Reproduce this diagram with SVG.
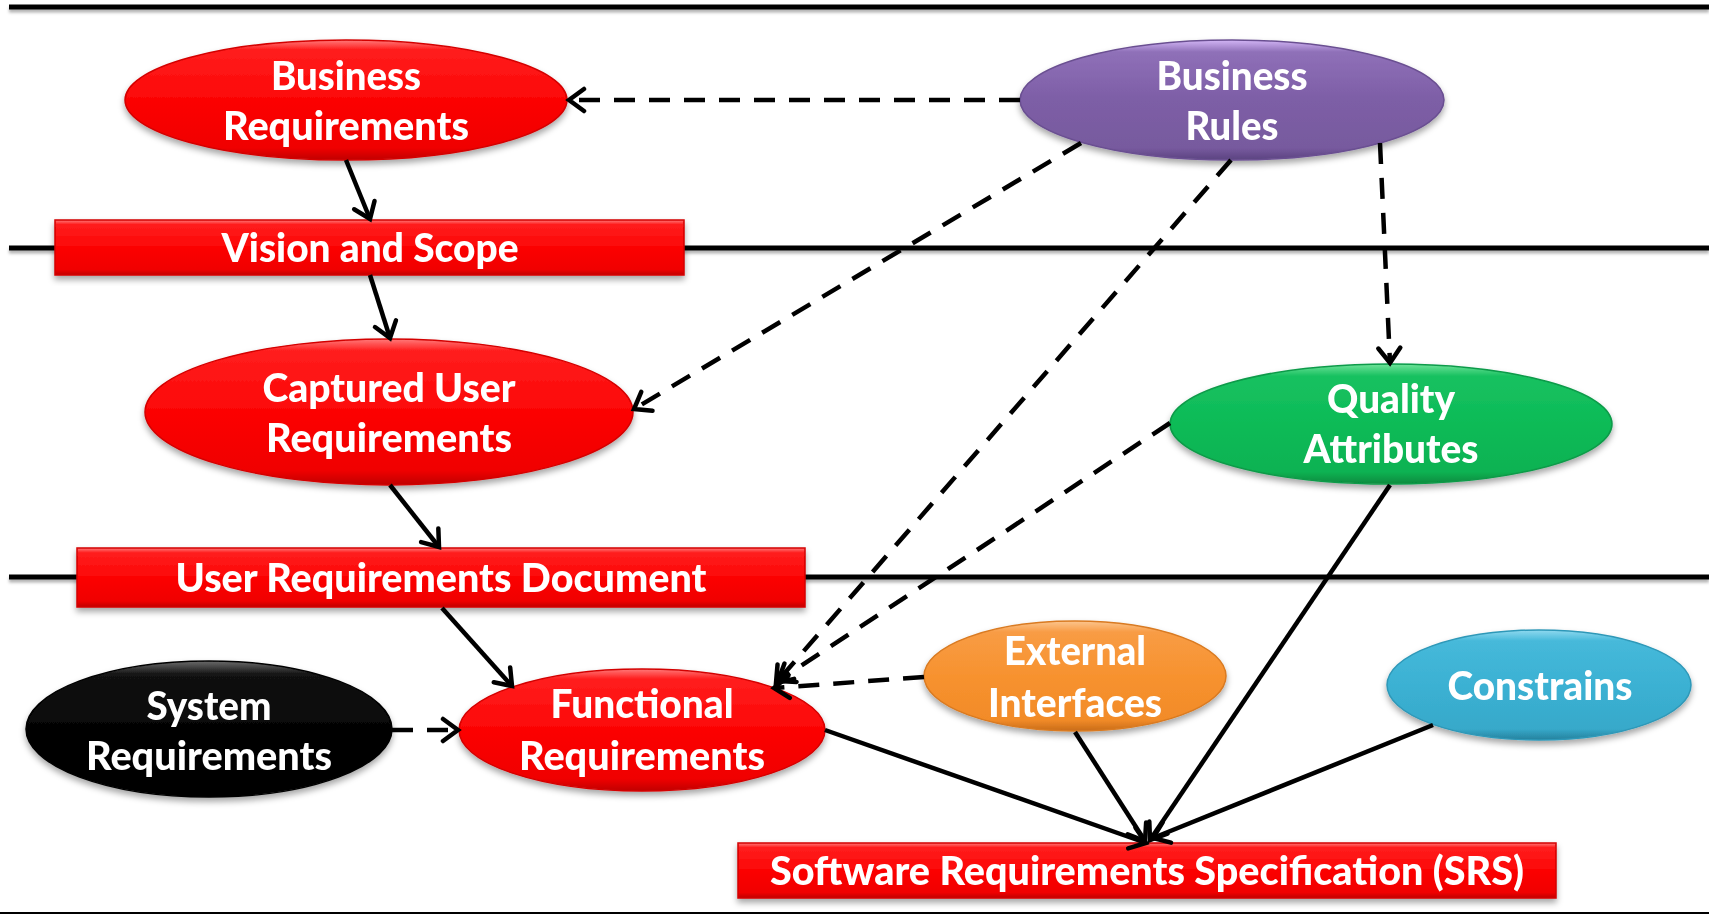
<svg xmlns="http://www.w3.org/2000/svg" width="1709" height="915" viewBox="0 0 1709 915">
<defs>
<style>
.lane{stroke:#000;stroke-width:5;fill:none}
.t{font-family:Lato,"Open Sans","Liberation Sans",sans-serif;font-weight:900;font-size:39px;fill:#fff;text-anchor:middle}
.c{stroke:#000;stroke-width:4.5;fill:none;stroke-linecap:butt}
.d{stroke-dasharray:21 14}
.n{filter:url(#sh)}
</style>
<filter id="sh" x="-10%" y="-10%" width="120%" height="130%">
<feDropShadow dx="0" dy="4" stdDeviation="3" flood-color="#000" flood-opacity="0.35"/>
</filter>
<filter id="ls" filterUnits="userSpaceOnUse" x="0" y="0" width="1709" height="915">
<feDropShadow dx="0" dy="3" stdDeviation="1.5" flood-color="#000" flood-opacity="0.3"/>
</filter>
<marker id="ah" viewBox="-18 -14 22 28" markerWidth="22" markerHeight="28" refX="0" refY="0" orient="auto" markerUnits="userSpaceOnUse">
<path d="M-15,-11 L0,0 L-15,11" fill="none" stroke="#000" stroke-width="4.5" stroke-dasharray="none" stroke-linejoin="miter" stroke-linecap="round"/>
</marker>
<linearGradient id="gRed" x1="0" y1="0" x2="0" y2="1">
<stop offset="0" stop-color="#ff7a7a"/>
<stop offset="0.08" stop-color="#ff1e1e"/>
<stop offset="0.5" stop-color="#fc0505"/>
<stop offset="0.9" stop-color="#f00000"/>
<stop offset="1" stop-color="#c00000"/>
</linearGradient>
<linearGradient id="gPur" x1="0" y1="0" x2="0" y2="1">
<stop offset="0" stop-color="#d2b5f5"/>
<stop offset="0.1" stop-color="#8f70b8"/>
<stop offset="0.5" stop-color="#7d5ea6"/>
<stop offset="0.9" stop-color="#775a9e"/>
<stop offset="1" stop-color="#5b4380"/>
</linearGradient>
<linearGradient id="gGrn" x1="0" y1="0" x2="0" y2="1">
<stop offset="0" stop-color="#70e39a"/>
<stop offset="0.1" stop-color="#17c160"/>
<stop offset="0.5" stop-color="#0dbb57"/>
<stop offset="0.9" stop-color="#0ab252"/>
<stop offset="1" stop-color="#078a3e"/>
</linearGradient>
<linearGradient id="gOrg" x1="0" y1="0" x2="0" y2="1">
<stop offset="0" stop-color="#fcc58e"/>
<stop offset="0.1" stop-color="#f89c45"/>
<stop offset="0.5" stop-color="#f7922f"/>
<stop offset="0.9" stop-color="#f28b28"/>
<stop offset="1" stop-color="#c86c18"/>
</linearGradient>
<linearGradient id="gBlu" x1="0" y1="0" x2="0" y2="1">
<stop offset="0" stop-color="#8fd9ef"/>
<stop offset="0.1" stop-color="#46b9da"/>
<stop offset="0.5" stop-color="#3bb1d3"/>
<stop offset="0.9" stop-color="#37a9ca"/>
<stop offset="1" stop-color="#25819d"/>
</linearGradient>
<linearGradient id="gBlk" x1="0" y1="0" x2="0" y2="1">
<stop offset="0" stop-color="#6a6a6a"/>
<stop offset="0.1" stop-color="#121212"/>
<stop offset="0.5" stop-color="#050505"/>
<stop offset="1" stop-color="#000"/>
</linearGradient>
</defs>
<rect width="1709" height="915" fill="#fff"/>

<g id="lanes">
<g filter="url(#ls)">
<line class="lane" x1="9" y1="7" x2="1709" y2="7"/>
<line class="lane" x1="9" y1="248" x2="1709" y2="248"/>
<line class="lane" x1="9" y1="577" x2="1709" y2="577"/>
</g>
<line x1="0" y1="913" x2="1709" y2="913" stroke="#000" stroke-width="2"/>
</g>

<g id="node-business-requirements" class="n">
<ellipse cx="346" cy="100" rx="221" ry="60" fill="url(#gRed)" stroke="#d40000" stroke-width="1.5"/>
<text class="t" x="346" y="90" textLength="150" lengthAdjust="spacingAndGlyphs">Business</text>
<text class="t" x="346" y="140" textLength="246" lengthAdjust="spacingAndGlyphs">Requirements</text>
</g>

<g id="node-business-rules" class="n">
<ellipse cx="1232" cy="100" rx="212" ry="60" fill="url(#gPur)" stroke="#6a4f91" stroke-width="1.5"/>
<text class="t" x="1232" y="90" textLength="151" lengthAdjust="spacingAndGlyphs">Business</text>
<text class="t" x="1232" y="140" textLength="93" lengthAdjust="spacingAndGlyphs">Rules</text>
</g>

<g id="node-vision-scope" class="n">
<rect x="55" y="220" width="629" height="55" fill="url(#gRed)" stroke="#d40000" stroke-width="1.5"/>
<text class="t" x="370" y="262" textLength="297" lengthAdjust="spacingAndGlyphs">Vision and Scope</text>
</g>

<g id="node-captured-user-requirements" class="n">
<ellipse cx="389" cy="412" rx="244" ry="73" fill="url(#gRed)" stroke="#d40000" stroke-width="1.5"/>
<text class="t" x="389" y="402" textLength="253" lengthAdjust="spacingAndGlyphs">Captured User</text>
<text class="t" x="389" y="452" textLength="246" lengthAdjust="spacingAndGlyphs">Requirements</text>
</g>

<g id="node-user-requirements-document" class="n">
<rect x="77" y="548" width="728" height="59" fill="url(#gRed)" stroke="#d40000" stroke-width="1.5"/>
<text class="t" x="441" y="592" textLength="531" lengthAdjust="spacingAndGlyphs">User Requirements Document</text>
</g>

<g id="node-quality-attributes" class="n">
<ellipse cx="1391" cy="424" rx="221" ry="60" fill="url(#gGrn)" stroke="#0a9a48" stroke-width="1.5"/>
<text class="t" x="1391" y="413" textLength="128" lengthAdjust="spacingAndGlyphs">Quality</text>
<text class="t" x="1391" y="463" textLength="175" lengthAdjust="spacingAndGlyphs">Attributes</text>
</g>

<g id="node-system-requirements" class="n">
<ellipse cx="209" cy="729" rx="183" ry="68" fill="url(#gBlk)" stroke="#000" stroke-width="1.5"/>
<text class="t" x="209" y="720" textLength="125" lengthAdjust="spacingAndGlyphs">System</text>
<text class="t" x="209" y="770" textLength="246" lengthAdjust="spacingAndGlyphs">Requirements</text>
</g>

<g id="node-functional-requirements" class="n">
<ellipse cx="642" cy="730" rx="183" ry="61" fill="url(#gRed)" stroke="#d40000" stroke-width="1.5"/>
<text class="t" x="642" y="718" textLength="183" lengthAdjust="spacingAndGlyphs">Functional</text>
<text class="t" x="642" y="770" textLength="246" lengthAdjust="spacingAndGlyphs">Requirements</text>
</g>

<g id="node-external-interfaces" class="n">
<ellipse cx="1075" cy="676" rx="151" ry="55" fill="url(#gOrg)" stroke="#d97a20" stroke-width="1.5"/>
<text class="t" x="1075" y="665" textLength="142" lengthAdjust="spacingAndGlyphs">External</text>
<text class="t" x="1075" y="717" textLength="174" lengthAdjust="spacingAndGlyphs">Interfaces</text>
</g>

<g id="node-constrains" class="n">
<ellipse cx="1539" cy="685" rx="152" ry="55" fill="url(#gBlu)" stroke="#2e98b8" stroke-width="1.5"/>
<text class="t" x="1540" y="700" textLength="185" lengthAdjust="spacingAndGlyphs">Constrains</text>
</g>

<g id="node-srs" class="n">
<rect x="738" y="843" width="818" height="55" fill="url(#gRed)" stroke="#d40000" stroke-width="1.5"/>
<text class="t" x="1147" y="885" textLength="754" lengthAdjust="spacingAndGlyphs">Software Requirements Specification (SRS)</text>
</g>

<g id="connectors">
<line class="c d" x1="1020" y1="100" x2="569" y2="100" marker-end="url(#ah)"/>
<line class="c" x1="346" y1="160" x2="370" y2="219" marker-end="url(#ah)"/>
<line class="c" x1="370" y1="275" x2="390" y2="338" marker-end="url(#ah)"/>
<line class="c d" x1="1081" y1="143" x2="634" y2="409" marker-end="url(#ah)"/>
<line class="c" x1="390" y1="485" x2="439" y2="547" marker-end="url(#ah)"/>
<line class="c d" x1="1380" y1="143" x2="1390" y2="363" marker-end="url(#ah)"/>
<line class="c d" x1="1231" y1="160" x2="776" y2="683" marker-end="url(#ah)"/>
<line class="c d" x1="1170" y1="423" x2="778" y2="681" marker-end="url(#ah)"/>
<line class="c d" x1="924" y1="677" x2="774" y2="688" marker-end="url(#ah)"/>
<line class="c" x1="442" y1="608" x2="512" y2="686" marker-end="url(#ah)"/>
<line class="c d" x1="392" y1="730" x2="458" y2="730" marker-end="url(#ah)"/>
<line class="c" x1="825" y1="730" x2="1146" y2="843" marker-end="url(#ah)"/>
<line class="c" x1="1075" y1="732" x2="1145" y2="841" marker-end="url(#ah)"/>
<line class="c" x1="1390" y1="485" x2="1150" y2="840" marker-end="url(#ah)"/>
<line class="c" x1="1433" y1="725" x2="1153" y2="838" marker-end="url(#ah)"/>
</g>
</svg>
